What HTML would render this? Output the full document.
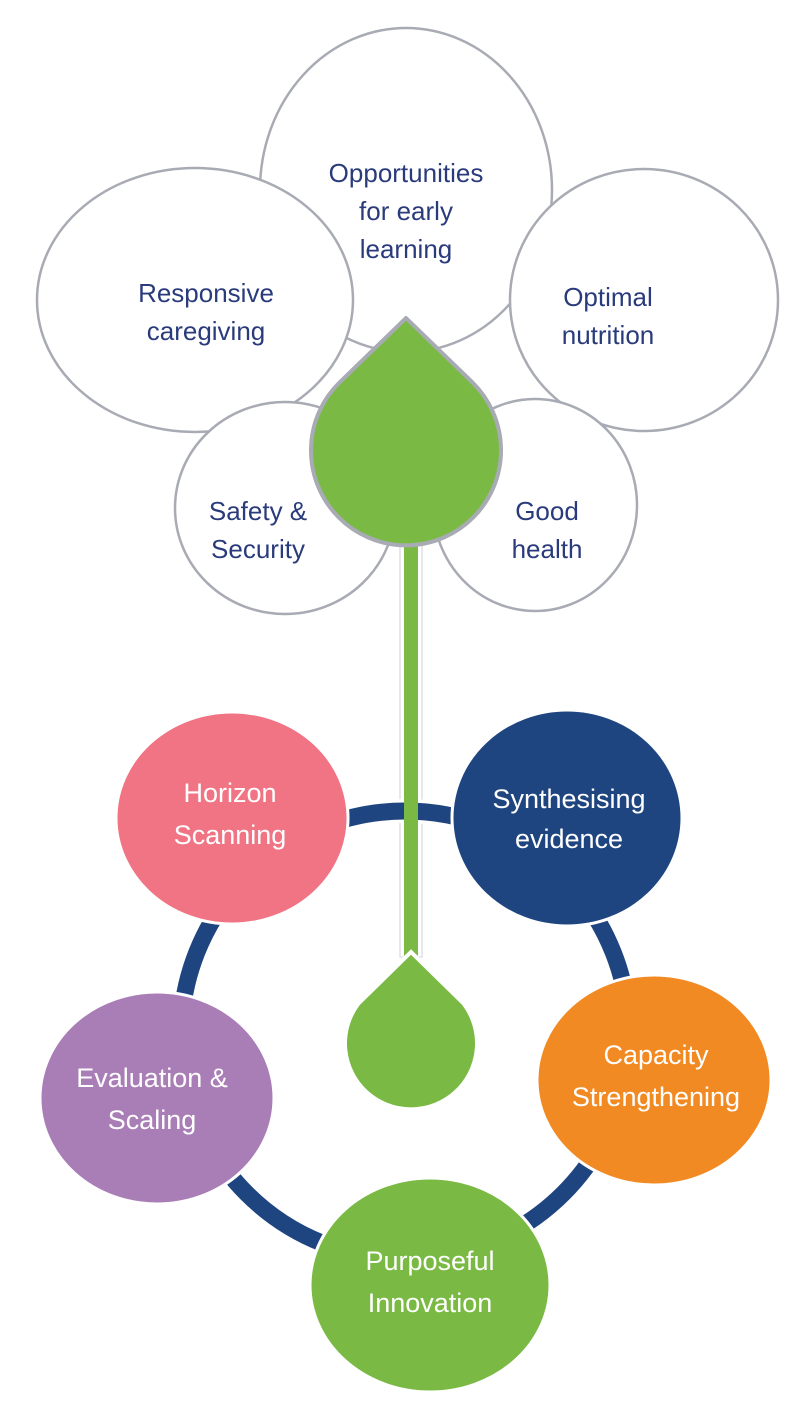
<!DOCTYPE html>
<html><head><style>body{margin:0;background:#fff}svg{display:block}</style></head><body>
<svg width="810" height="1424" viewBox="0 0 810 1424" xmlns="http://www.w3.org/2000/svg" font-family="Liberation Sans, sans-serif">
<g fill="#fff" stroke="#a8abb3" stroke-width="2.5">
<ellipse cx="406" cy="190" rx="146" ry="162"/>
<ellipse cx="195" cy="300" rx="158" ry="132"/>
<ellipse cx="644" cy="300" rx="134" ry="131"/>
<ellipse cx="285" cy="508" rx="110" ry="106"/>
<ellipse cx="535" cy="505" rx="102" ry="106"/>
</g>
<g fill="#2a3b7c" font-size="26" text-anchor="middle">
<text x="406" y="182">Opportunities</text><text x="406" y="220">for early</text><text x="406" y="258">learning</text>
<text x="206" y="302">Responsive</text><text x="206" y="340">caregiving</text>
<text x="608" y="306">Optimal</text><text x="608" y="344">nutrition</text>
<text x="258" y="520">Safety &amp;</text><text x="258" y="558">Security</text>
<text x="547" y="520">Good</text><text x="547" y="558">health</text>
</g>
<rect x="400" y="545" width="22" height="412" fill="#fff" stroke="#dde0e6" stroke-width="1.5"/>
<rect x="404" y="545" width="14" height="412" fill="#7aba44"/>
<path d="M406,318 L340,382 A95,95 0 1 0 472,382 Z" fill="#7aba44" stroke="#a8abb3" stroke-width="4" stroke-linejoin="round"/>
<circle cx="405" cy="1035" r="224" fill="none" stroke="#fff" stroke-width="24"/>
<circle cx="405" cy="1035" r="224" fill="none" stroke="#1f4580" stroke-width="17"/>
<rect x="404" y="790" width="14" height="40" fill="#7aba44"/>
<path d="M411,952 L358,1004 A66,66 0 1 0 464,1004 Z" fill="#7aba44" stroke="#fff" stroke-width="4"/>
<g stroke="#fff" stroke-width="3">
<ellipse cx="232" cy="818" rx="116" ry="106" fill="#f07483"/>
<ellipse cx="567" cy="818" rx="115" ry="108" fill="#1f4580"/>
<ellipse cx="654" cy="1080" rx="117" ry="105" fill="#f28a24"/>
<ellipse cx="157" cy="1098" rx="117" ry="106" fill="#a97eb7"/>
<ellipse cx="430" cy="1285" rx="120" ry="107" fill="#7aba44"/>
</g>
<g fill="#fff" font-size="27" text-anchor="middle">
<text x="230" y="802">Horizon</text><text x="230" y="844">Scanning</text>
<text x="569" y="808">Synthesising</text><text x="569" y="848">evidence</text>
<text x="656" y="1064">Capacity</text><text x="656" y="1106">Strengthening</text>
<text x="152" y="1087">Evaluation &amp;</text><text x="152" y="1129">Scaling</text>
<text x="430" y="1270">Purposeful</text><text x="430" y="1312">Innovation</text>
</g>
</svg>
</body></html>
